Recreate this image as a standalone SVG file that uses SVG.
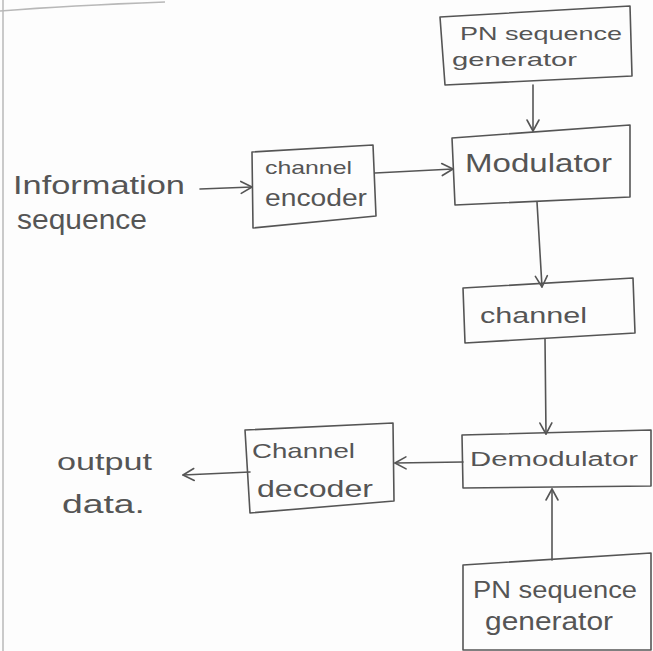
<svg xmlns="http://www.w3.org/2000/svg" width="653" height="651" viewBox="0 0 653 651">
<style>
.bg{fill:#fdfdfd}
.box{fill:none;stroke:#555;stroke-width:1.6;stroke-linejoin:round}
.conn{fill:none;stroke:#555;stroke-width:1.6;stroke-linecap:round}
.t{font-family:"Liberation Sans","Open Sans",sans-serif;fill:#555}
.edge{fill:none;stroke:#b8b8b8;stroke-width:1.5}
</style>
<defs>
<marker id="arr" markerUnits="userSpaceOnUse" markerWidth="16" markerHeight="16" viewBox="0 0 16 16" refX="13" refY="8" orient="auto">
<path d="M2,2 L13,8 L2,14" fill="none" stroke="#555" stroke-width="1.6" stroke-linecap="round" stroke-linejoin="round"/>
</marker>
</defs>
<rect class="bg" x="0" y="0" width="653" height="651"/>
<path class="edge" d="M0,11 C50,7 110,4 165,2"/>
<path class="edge" d="M3,0 L3,651" stroke="#ece2e2"/>

<g id="pn-top">
<polygon class="box" points="440,17 630,6 632,76 445,85"/>
<text class="t" x="460" y="40" font-size="19" textLength="162" lengthAdjust="spacingAndGlyphs">PN sequence</text>
<text class="t" x="452" y="66" font-size="19" textLength="125" lengthAdjust="spacingAndGlyphs">generator</text>
</g>

<g id="modulator">
<polygon class="box" points="452,138 630,125 630,197 455,205"/>
<text class="t" x="465" y="172" font-size="25" textLength="147" lengthAdjust="spacingAndGlyphs">Modulator</text>
</g>

<g id="info">
<text class="t" x="13" y="194" font-size="26" textLength="172" lengthAdjust="spacingAndGlyphs">Information</text>
<text class="t" x="17" y="229" font-size="27" textLength="130" lengthAdjust="spacingAndGlyphs">sequence</text>
</g>

<g id="encoder">
<polygon class="box" points="252,152 373,145 376,216 253,228"/>
<text class="t" x="265" y="174" font-size="19" textLength="87" lengthAdjust="spacingAndGlyphs">channel</text>
<text class="t" x="265" y="206" font-size="23" textLength="102" lengthAdjust="spacingAndGlyphs">encoder</text>
</g>

<g id="channel">
<polygon class="box" points="463,288 633,278 635,333 465,343"/>
<text class="t" x="480" y="323" font-size="22" textLength="107" lengthAdjust="spacingAndGlyphs">channel</text>
</g>

<g id="demodulator">
<polygon class="box" points="462,435 651,430 651,486 463,488"/>
<text class="t" x="470" y="466" font-size="20" textLength="168" lengthAdjust="spacingAndGlyphs">Demodulator</text>
</g>

<g id="decoder">
<polygon class="box" points="245,430 393,423 394,501 250,513"/>
<text class="t" x="252" y="458" font-size="21" textLength="103" lengthAdjust="spacingAndGlyphs">Channel</text>
<text class="t" x="257" y="497" font-size="24" textLength="116" lengthAdjust="spacingAndGlyphs">decoder</text>
</g>

<g id="output">
<text class="t" x="57" y="470" font-size="23" textLength="95" lengthAdjust="spacingAndGlyphs">output</text>
<text class="t" x="62" y="513" font-size="25" textLength="83" lengthAdjust="spacingAndGlyphs">data.</text>
</g>

<g id="pn-bottom">
<polygon class="box" points="463,565 651,553 651,650 463,650"/>
<text class="t" x="473" y="598" font-size="23" textLength="164" lengthAdjust="spacingAndGlyphs">PN sequence</text>
<text class="t" x="485" y="630" font-size="25" textLength="128" lengthAdjust="spacingAndGlyphs">generator</text>
</g>

<g id="connectors">
<path class="conn" d="M533,85 L533,131" marker-end="url(#arr)"/>
<path class="conn" d="M200,189 L252,187" marker-end="url(#arr)"/>
<path class="conn" d="M375,173 L453,169" marker-end="url(#arr)"/>
<path class="conn" d="M537,202 L542,287" marker-end="url(#arr)"/>
<path class="conn" d="M545,339 L546,434" marker-end="url(#arr)"/>
<path class="conn" d="M463,462 L395,463" marker-end="url(#arr)"/>
<path class="conn" d="M250,472 L183,475" marker-end="url(#arr)"/>
<path class="conn" d="M552,560 L552,489" marker-end="url(#arr)"/>
</g>
</svg>
